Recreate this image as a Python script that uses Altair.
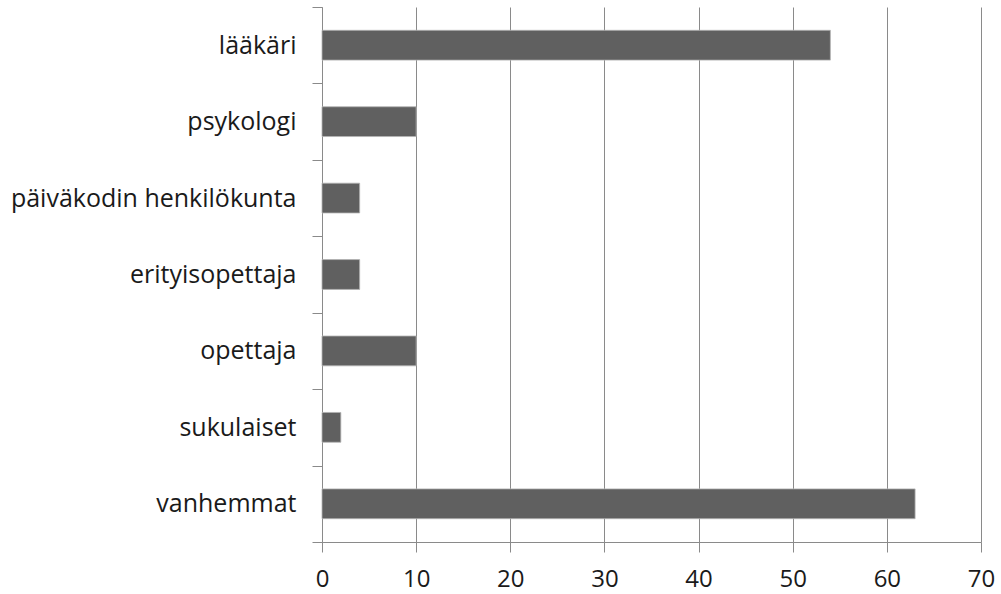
import altair as alt
import pandas as pd

# Ammattiryhmät ylhäältä alas ja niiden lukumäärät
categories = [
    "lääkäri",
    "psykologi",
    "päiväkodin henkilökunta",
    "erityisopettaja",
    "opettaja",
    "sukulaiset",
    "vanhemmat",
]
counts = [54, 10, 4, 4, 10, 2, 63]
x_ticks = [0, 10, 20, 30, 40, 50, 60, 70]

df = pd.DataFrame({"ryhma": categories, "lkm": counts})

FONT = "Open Sans"
GRID = "#8a8a8a"

bars = (
    alt.Chart(df)
    .mark_bar(color="#606060", stroke="#b4b4b4", strokeWidth=0.8, height={"band": 0.39})
    .encode(
        x=alt.X(
            "lkm:Q",
            scale=alt.Scale(domain=[0, 70], nice=False),
            axis=alt.Axis(
                values=x_ticks,
                title=None,
                grid=True,
                gridColor=GRID,
                gridWidth=1,
                domainColor=GRID,
                tickColor=GRID,
                tickSize=10,
                labelFont=FONT,
                labelFontSize=24,
                labelColor="#1a1a1a",
                labelPadding=15,
                labelFlush=False,
            ),
        ),
        y=alt.Y(
            "ryhma:N",
            sort=categories,
            scale=alt.Scale(paddingInner=0, paddingOuter=0),
            axis=alt.Axis(
                title=None,
                grid=False,
                domainColor=GRID,
                tickColor=GRID,
                tickSize=10,
                tickBand="extent",
                labelFont=FONT,
                labelFontSize=25,
                labelColor="#1a1a1a",
                labelPadding=16,
                labelLimit=400,
            ),
        ),
    )
)

chart = (
    bars.properties(width=659, height=535)
    .properties(
        autosize=alt.AutoSizeParams(type="none"),
        padding={"left": 322, "top": 7, "right": 20, "bottom": 52},
        background="white",
    )
    .configure_view(stroke=None)
)

chart.save("out.html", embed_options={"renderer": "svg", "actions": False})
